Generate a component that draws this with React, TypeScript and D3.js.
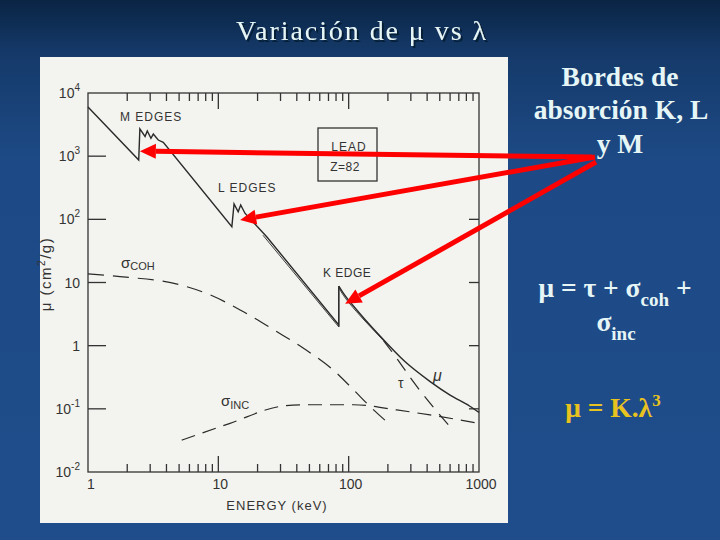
import React from "react";
import * as d3 from "d3";

type Pt = [number, number];

// total attenuation mu, below and above the K edge (keV, cm2/g)
const muLowE: Pt[] = [
  [1, 6000], [2.45, 870], [2.5, 2700], [2.74, 2050], [2.85, 2500], [3.04, 1920],
  [3.17, 2240], [3.46, 1800], [3.78, 1660], [12.7, 76.5], [13.2, 175], [14.2, 132],
  [14.85, 169], [16, 125], [23.5, 53], [84, 2.13], [84, 8.8],
];
const muHighE: Pt[] = [
  [84, 8.8], [91, 6.8], [115, 3.7], [174, 1.42], [270, 0.56], [422, 0.27],
  [600, 0.165], [850, 0.11], [1000, 0.088],
];
// photoelectric tau: close to mu, then dashed tail
const tauNear: Pt[] = [
  [22, 56], [84, 1.98], [84, 8.2], [91, 6.3], [115, 3.45], [150, 1.9], [185, 1.2],
];
const tauTail: Pt[] = [[185, 1.2], [234, 0.63], [305, 0.29], [421, 0.123], [600, 0.052]];
const cohCurve: Pt[] = [
  [1, 13.7], [1.76, 12.4], [5.08, 9.2], [8.6, 6.4], [14.7, 3.68], [28, 1.67],
  [45, 0.91], [81, 0.367], [109, 0.2], [150, 0.103], [202, 0.059],
];
const incCurve: Pt[] = [
  [5.24, 0.032], [12.3, 0.059], [29.7, 0.109], [45, 0.116], [109, 0.116],
  [234, 0.096], [421, 0.08], [1000, 0.059],
];

const xMajor = [1, 10, 100, 1000];
const xLabels = ["1", "10", "100", "1000"];
const yMajor = [0.01, 0.1, 1, 10, 100, 1000, 10000];
const yLabels: [string, string][] = [
  ["10", "-2"], ["10", "-1"], ["1", ""], ["10", ""], ["10", "2"], ["10", "3"], ["10", "4"],
];
// points the red arrows aim at (M, L, K edges)
const edgeTargets: Pt[] = [[2.5, 1200], [14.7, 98], [94, 4.6]];
const arrowTails: Pt[] = [[592, 157], [595, 157], [596, 162]];

const X = d3.scaleLog().domain([1, 1000]).range([88, 479]);
const Y = d3.scaleLog().domain([0.01, 10000]).range([472, 93]);

const lineLin = d3.line<Pt>().x((d) => X(d[0])).y((d) => Y(d[1]));
const lineSmooth = d3.line<Pt>().x((d) => X(d[0])).y((d) => Y(d[1])).curve(d3.curveMonotoneX);

const ink = "#333";
const slideText = "#e6f6f6";

function arrowHead(tail: Pt, tip: Pt) {
  const dx = tip[0] - tail[0];
  const dy = tip[1] - tail[1];
  const len = Math.hypot(dx, dy);
  const ux = dx / len, uy = dy / len;
  const L = 16, W = 7.5;
  const bx = tip[0] - ux * L, by = tip[1] - uy * L;
  return {
    base: [bx, by] as Pt,
    pts: `${tip[0]},${tip[1]} ${bx - uy * W},${by + ux * W} ${bx + uy * W},${by - ux * W}`,
  };
}

const App: React.FC = () => {
  const x0 = X(1), x1 = X(1000), y0 = Y(10000), y1 = Y(0.01);
  const allX = X.ticks();
  return (
    <svg width={720} height={540} style={{ display: "block", position: "absolute", left: 0, top: 0 }}>
      <defs>
        <linearGradient id="bg" x1="0" y1="0" x2="0" y2="1">
          <stop offset="0" stopColor="#0a2444" />
          <stop offset="0.1" stopColor="#153a6a" />
          <stop offset="0.3" stopColor="#1d4a86" />
          <stop offset="1" stopColor="#1f4d8b" />
        </linearGradient>
        <filter id="shadow" x="-10%" y="-30%" width="120%" height="160%">
          <feDropShadow dx="2" dy="2" stdDeviation="0.6" floodColor="#06142a" floodOpacity="0.8" />
        </filter>
      </defs>
      <rect width={720} height={540} fill="url(#bg)" />

      {/* title */}
      <text x={361} y={40} textAnchor="middle" fontFamily="Liberation Serif, serif" fontSize={28}
        textLength={250} lengthAdjust="spacing" fill={slideText} filter="url(#shadow)">Variación de μ vs λ</text>

      {/* scanned chart */}
      <rect x={40} y={57} width={468} height={466} fill="#f3f3ef" />

      <g fill="none" stroke={ink} strokeWidth={1.3}>
        <rect x={x0} y={y0} width={x1 - x0} height={y1 - y0} />
        {allX.filter((v) => v > 1 && v < 1000).map((v) => {
          const major = xMajor.includes(v);
          const h = major ? 16 : 8;
          return (
            <g key={v}>
              <line x1={X(v)} x2={X(v)} y1={y1} y2={y1 - h} />
              <line x1={X(v)} x2={X(v)} y1={y0} y2={y0 + h} />
            </g>
          );
        })}
        {yMajor.filter((v) => v > 0.01 && v < 10000).map((v) => (
          <g key={v}>
            <line x1={x0} x2={x0 + 18} y1={Y(v)} y2={Y(v)} />
            <line x1={x1} x2={x1 - 10} y1={Y(v)} y2={Y(v)} />
          </g>
        ))}
      </g>

      {/* tick labels */}
      <g fontFamily="Liberation Sans, sans-serif" fontSize={14} fill={ink}>
        {yMajor.map((v, i) => (
          <text key={v} x={80} y={Y(v) + 5} textAnchor="end">
            {yLabels[i][0]}
            {yLabels[i][1] && <tspan fontSize={10} dy={-7}>{yLabels[i][1]}</tspan>}
          </text>
        ))}
        {xMajor.map((v, i) => (
          <text key={v} x={X(v) + (i === 0 ? 3 : 2)} y={489} textAnchor="middle">{xLabels[i]}</text>
        ))}
        <text x={277} y={510} fontSize={13} textAnchor="middle" letterSpacing={1}>ENERGY (keV)</text>
        <text transform="translate(51,274) rotate(-90)" textAnchor="middle" fontSize={15} letterSpacing={1.5}>
          μ (cm<tspan fontSize={10} dy={-6}>2</tspan><tspan dy={6}>/g)</tspan>
        </text>
      </g>

      {/* curves */}
      <g fill="none" stroke="#2a2a2a">
        <path d={lineLin(muLowE) ?? ""} strokeWidth={1.4} />
        <path d={lineSmooth(muHighE) ?? ""} strokeWidth={1.4} />
        <path d={lineLin(tauNear.slice(0, 3)) ?? ""} strokeWidth={0.9} />
        <path d={lineSmooth(tauNear.slice(2)) ?? ""} strokeWidth={0.9} />
        <path d={lineSmooth(tauTail) ?? ""} strokeWidth={1.2} strokeDasharray="14 9" />
        <path d={lineSmooth(cohCurve) ?? ""} strokeWidth={1.2} strokeDasharray="16 9" />
        <path d={lineSmooth(incCurve) ?? ""} strokeWidth={1.2} strokeDasharray="14 8" />
      </g>

      {/* chart annotations */}
      <g fontFamily="Liberation Sans, sans-serif" fill={ink}>
        <text x={120} y={121} fontSize={12} letterSpacing={1}>M EDGES</text>
        <text x={218} y={192} fontSize={12} letterSpacing={1}>L EDGES</text>
        <text x={323} y={277} fontSize={12} letterSpacing={0.5}>K EDGE</text>
        <rect x={318} y={128} width={59} height={53} fill="none" stroke={ink} strokeWidth={1.3} />
        <text x={349} y={151} fontSize={12} textAnchor="middle" letterSpacing={1}>LEAD</text>
        <text x={345} y={171} fontSize={12} textAnchor="middle" letterSpacing={0.5}>Z=82</text>
        <text x={121} y={268} fontSize={15}>σ<tspan fontSize={11} dy={2}>COH</tspan></text>
        <text x={221} y={406} fontSize={15}>σ<tspan fontSize={11} dy={3}>INC</tspan></text>
        <text x={398} y={388} fontSize={14}>τ</text>
        <text x={433} y={381} fontSize={16} fontStyle="italic">μ</text>
      </g>

      {/* slide text */}
      <g fontFamily="Liberation Serif, serif" fontWeight="bold" fontSize={27.5} fill={slideText} textAnchor="middle">
        <text x={620} y={86}>Bordes de</text>
        <text x={621} y={119}>absorción K, L</text>
        <text x={620} y={153}>y M</text>
        <text x={615} y={297}>μ = τ + σ<tspan fontSize={19} dy={9}>coh</tspan><tspan dy={-9}> +</tspan></text>
        <text x={616} y={331}>σ<tspan fontSize={19} dy={9}>inc</tspan></text>
        <text x={613} y={417} fill="#e8c21e">μ = K.λ<tspan fontSize={17} dy={-11}>3</tspan></text>
      </g>

      {/* red arrows */}
      <g>
        {edgeTargets.map((t, i) => {
          const tip: Pt = [X(t[0]), Y(t[1])];
          const h = arrowHead(arrowTails[i], tip);
          return (
            <g key={i}>
              <line x1={arrowTails[i][0]} y1={arrowTails[i][1]} x2={h.base[0]} y2={h.base[1]}
                stroke="#ff0000" strokeWidth={5} />
              <polygon points={h.pts} fill="#ff0000" />
            </g>
          );
        })}
      </g>
    </svg>
  );
};

export default App;
